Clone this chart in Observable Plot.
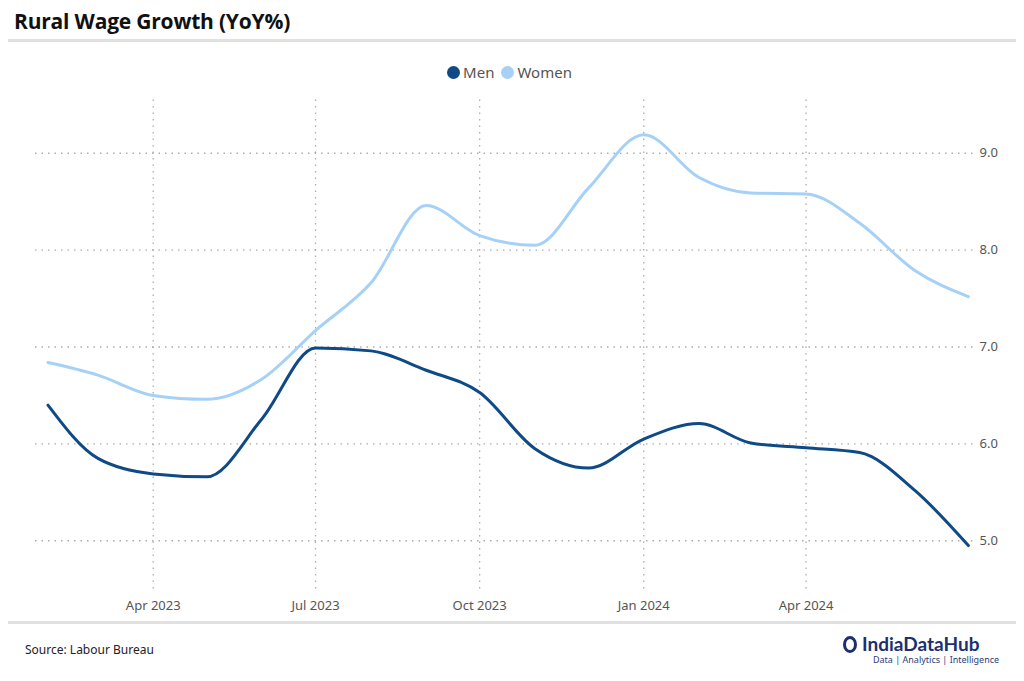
<!DOCTYPE html>
<html>
<head>
<meta charset="utf-8">
<script src="https://cdn.jsdelivr.net/npm/d3@7"></script>
<script src="https://cdn.jsdelivr.net/npm/@observablehq/plot@0.6"></script>
<style>
  html, body { margin: 0; padding: 0; background: #fff; }
  #wrap { position: relative; width: 1024px; height: 681px; overflow: hidden; font-family: "Noto Sans", "Open Sans", sans-serif; }
  #title { position: absolute; left: 14px; top: 7px; font-size: 21px; font-weight: 700; color: #111; font-family: "Open Sans", "Noto Sans", sans-serif; letter-spacing: -0.2px; }
  .rule { position: absolute; left: 8px; right: 8px; height: 3px; background: #e0e0e0; }
  #legend { position: absolute; top: 62px; left: 0; width: 1024px; text-align: center; font-size: 15px; color: #555; padding-left: 2px; box-sizing: border-box; }
  #legend span.sw { display: inline-block; width: 13px; height: 13px; border-radius: 50%; vertical-align: -1px; margin-right: 3px; }
  #legend span.it { margin-right: 7px; }
  #chart { position: absolute; left: 0; top: 90px; }
  #source { position: absolute; left: 25px; top: 641px; font-size: 12px; color: #222; }
  #logo { position: absolute; left: 843px; top: 634px; color: #1c2f6e; }
  #logo .name { font-size: 19px; font-weight: 700; font-family: "Lato", "Noto Sans", sans-serif; line-height: 20px; }
  #logo .tag { font-size: 9px; color: #2a3d7a; margin-left: 30px; line-height: 12px; }
</style>
</head>
<body>
<div id="wrap">
  <div id="title">Rural Wage Growth (YoY%)</div>
  <div class="rule" style="top:39px"></div>
  <div id="legend"></div>
  <div id="chart"></div>
  <div class="rule" style="top:621px"></div>
  <div id="source">Source: Labour Bureau</div>
  <div id="logo">
    <div class="name"><span style="display:inline-block;width:14px;height:17px;border:3px solid #1c2f6e;border-radius:50% 50% 50% 50%;box-sizing:border-box;vertical-align:-2px;margin-right:5px;"></span>IndiaDataHub</div>
    <div class="tag">Data | Analytics | Intelligence</div>
  </div>
</div>
<script>
const months = ["2023-02","2023-03","2023-04","2023-05","2023-06","2023-07","2023-08","2023-09","2023-10","2023-11","2023-12","2024-01","2024-02","2024-03","2024-04","2024-05","2024-06","2024-07"];
const men   = [6.40, 5.85, 5.69, 5.66, 6.26, 6.99, 6.96, 6.76, 6.53, 5.95, 5.75, 6.05, 6.21, 6.01, 5.96, 5.91, 5.52, 4.95];
const women = [6.84, 6.71, 6.50, 6.46, 6.67, 7.17, 7.66, 8.46, 8.15, 8.05, 8.64, 9.19, 8.75, 8.59, 8.58, 8.28, 7.79, 7.52];
const seriesNames = ["Men", "Women"];
const seriesColors = ["#0f4a86", "#a6d1f6"];
const yTicks = [5, 6, 7, 8, 9];
const xTicks = ["2023-04","2023-07","2023-10","2024-01","2024-04"];

const parse = d3.utcParse("%Y-%m");
const rows = [];
months.forEach((m, i) => {
  rows.push({date: parse(m), value: men[i], series: "Men"});
  rows.push({date: parse(m), value: women[i], series: "Women"});
});

// legend
const leg = document.getElementById("legend");
seriesNames.forEach((s, i) => {
  const sw = document.createElement("span"); sw.className = "sw"; sw.style.background = seriesColors[i];
  const t = document.createElement("span"); t.className = "it"; t.textContent = s;
  leg.appendChild(sw); leg.appendChild(t);
});

const plot = Plot.plot({
  width: 1024,
  height: 530,
  marginLeft: 35,
  marginRight: 49,
  marginTop: 24,
  marginBottom: 41,
  style: {fontFamily: "'Noto Sans', 'Open Sans', sans-serif", fontSize: "13px", color: "#555", background: "transparent"},
  x: {type: "utc", domain: [new Date(Date.UTC(2023,0,25)), new Date(Date.UTC(2024,6,5))]},
  y: {domain: [4.6, 9.4]},
  color: {domain: seriesNames, range: seriesColors},
  marks: [
    Plot.gridY(yTicks, {stroke: "#999", strokeOpacity: 0.8, strokeDasharray: "1.5,5", strokeWidth: 1.3}),
    Plot.gridX(xTicks.map(parse), {stroke: "#999", strokeOpacity: 0.8, strokeDasharray: "1.5,5", strokeWidth: 1.3, y1: 9.55, y2: 4.48}),
    Plot.axisY(yTicks, {anchor: "right", tickSize: 0, tickPadding: 4, tickFormat: d3.format(".1f"), label: null, fill: "#555", fontSize: 13}),
    Plot.axisX(xTicks.map(parse), {anchor: "bottom", tickSize: 0, tickPadding: 21, tickFormat: d3.utcFormat("%b %Y"), label: null, fill: "#555", fontSize: 13}),
    Plot.line(rows, {x: "date", y: "value", stroke: "series", z: "series", strokeWidth: 3, curve: "monotone-x"})
  ]
});
document.getElementById("chart").appendChild(plot);
</script>
</body>
</html>
